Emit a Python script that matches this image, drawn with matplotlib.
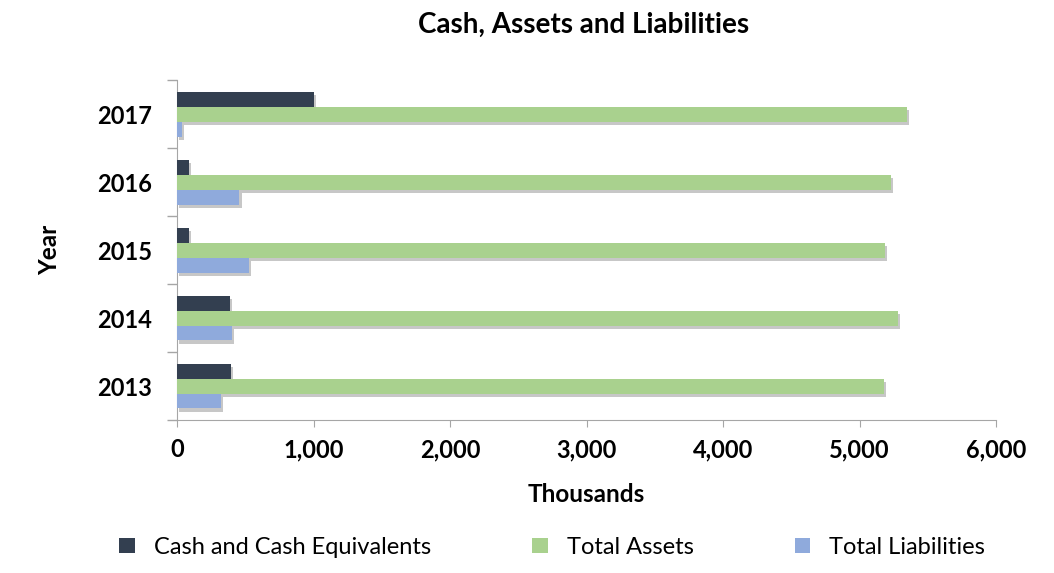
import matplotlib
matplotlib.use("Agg")
import matplotlib.pyplot as plt
import matplotlib.patheffects as pe
from matplotlib.patches import Patch
from matplotlib.ticker import FuncFormatter, FixedLocator
import numpy as np

years = ["2013", "2014", "2015", "2016", "2017"]
cash = [393, 388, 90, 90, 1000]
assets = [5177, 5282, 5189, 5231, 5346]
liabilities = [320, 403, 525, 457, 35]
series_names = ["Cash and Cash Equivalents", "Total Assets", "Total Liabilities"]
colors = ["#333F50", "#A9D18E", "#8FAADC"]

plt.rcParams['font.family'] = ['Lato', 'DejaVu Sans']

fig = plt.figure(figsize=(10.54, 5.73), dpi=100)
ax = fig.add_axes([0.168, 0.267, 0.777, 0.593])

y = np.arange(len(years))
h = 0.22
shadow = [pe.SimplePatchShadow(offset=(1.5, -2.5), shadow_rgbFace="#000000", alpha=0.22), pe.Normal()]
handles = []
for i, (vals, col, name) in enumerate(zip([cash, assets, liabilities], colors, series_names)):
    b = ax.barh(y + (1 - i) * h, vals, height=h, color=col, label=name, zorder=3)
    for p in b:
        p.set_path_effects(shadow)
    handles.append(Patch(facecolor=col, label=name))

ax.set_xlim(0, 6000)
ax.set_ylim(-0.5, len(years) - 0.5)
ax.set_yticks(y)
ax.set_yticklabels(years, fontsize=17, fontweight='bold')
ax.yaxis.set_minor_locator(FixedLocator(np.arange(-0.5, len(years), 1)))
ax.tick_params(axis='y', which='major', length=0, pad=18)
ax.tick_params(axis='y', which='minor', length=7, color='#A6A6A6', width=1)
ax.set_xticks(np.arange(0, 6001, 1000))
ax.xaxis.set_major_formatter(FuncFormatter(lambda v, p: f"{int(v):,}"))
ax.tick_params(axis='x', length=5, color='#A6A6A6', labelsize=17, pad=8)
for t in ax.get_xticklabels():
    t.set_fontweight('bold')

for s in ['top', 'right']:
    ax.spines[s].set_visible(False)
for s in ['left', 'bottom']:
    ax.spines[s].set_color('#A6A6A6')

ax.set_xlabel("Thousands", fontsize=17.5, fontweight='bold')
ax.xaxis.set_label_coords(0.5, -0.185)
ax.set_ylabel("Year", fontsize=17.5, fontweight='bold')
ax.yaxis.set_label_coords(-0.142, 0.5)
fig.text(0.554, 0.956, "Cash, Assets and Liabilities", ha='center', va='center',
         fontsize=20, fontweight='bold')

fig.legend(handles=handles, loc='center', bbox_to_anchor=(0.524, 0.045),
           ncol=3, frameon=False, fontsize=17, handlelength=0.65, handleheight=0.65,
           columnspacing=4.3, handletextpad=0.8)

fig.savefig("out.png", dpi=100)
